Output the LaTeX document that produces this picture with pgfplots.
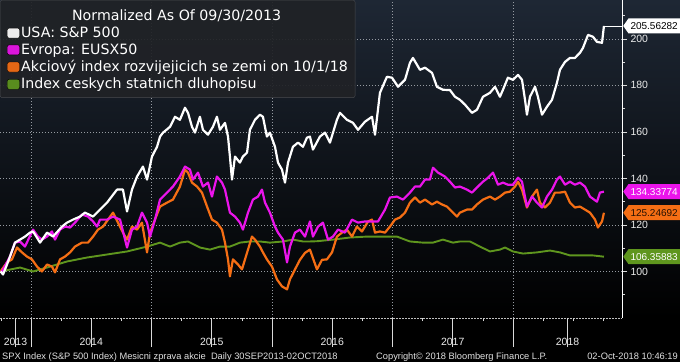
\documentclass[border=0pt]{standalone}
\usepackage{pgfplots}
\pgfplotsset{compat=1.18}
\usepackage{fontspec}
\setmainfont{DejaVu Sans}
\newfontfamily\lib{Liberation Sans}
\usetikzlibrary{shapes.symbols}
\definecolor{bgtop}{RGB}{30,39,52}
\definecolor{cmag}{RGB}{235,20,235}
\definecolor{corg}{RGB}{245,110,20}
\definecolor{cgrn}{RGB}{95,150,30}
\definecolor{cgrid}{RGB}{150,155,162}
\definecolor{legbg}{RGB}{32,34,38}
\definecolor{legdraw}{RGB}{72,74,78}
\tikzset{tag/.style={signal, signal to=west, signal pointer angle=110, anchor=west, xshift=1pt,
  inner xsep=2pt, inner ysep=2.5pt, minimum height=15pt, font=\lib\fontsize{10}{12}\selectfont}}
\begin{document}
\begin{tikzpicture}
\fill[black] (0,0) rectangle (680pt,362pt);
\shade[top color=bgtop, bottom color=black] (0,44pt) rectangle (680pt,362pt);
\begin{axis}[
  at={(0pt,44pt)}, anchor=south west,
  scale only axis, width=622pt, height=318pt,
  xmin=2013.7427, xmax=2018.905, ymin=80, ymax=216.7,
  axis x line*=bottom, axis y line*=right,
  clip=false,
  tick align=outside,
  major tick length=5pt, minor tick length=3pt,
  xtick={2014,2015,2016,2017,2018},
  xticklabels={},
  xtick style={/pgfplots/major tick length=29pt},
  minor xtick={2013.75,2014.25,2014.5,2014.75,2015.25,2015.5,2015.75,2016.25,2016.5,2016.75,2017.25,2017.5,2017.75,2018.25,2018.5,2018.75},
  extra x ticks={2013.871,2014.5,2015.5,2016.5,2017.5,2018.453},
  extra x tick labels={2013,2014,2015,2016,2017,2018},
  extra x tick style={grid=none, /pgfplots/major tick length=0pt},
  ytick={100,120,140,160,180,200},
  minor ytick={90,110,130,150,170,190,210},
  grid=major,
  major grid style={cgrid, dash pattern=on 1pt off 2pt, line width=0.5pt},
  tick style={white!85!black, line width=0.6pt},
  /pgf/number format/assume math mode=true,
  ticklabel style={font=\lib\fontsize{10.5}{12}\selectfont, text=white!92!black},
  xticklabel style={yshift=-17pt},
  x axis line style={white!75!black, dash pattern=on 2pt off 1pt, line width=0.6pt},
  y axis line style={white, line width=0.8pt},
  legend style={at={(0,1)}, anchor=north west, fill=legbg, fill opacity=0.92, text opacity=1,
    draw=legdraw, rounded corners=2pt, font=\fontsize{14.2}{16}\selectfont, text=white,
    cells={anchor=west}, row sep=2.3pt, inner xsep=6pt, inner ysep=6pt, nodes={inner sep=1.2pt}},
  legend image code/.code={\fill[#1] (1pt,-5pt) rectangle (13.5pt,5pt);},
]
\addlegendimage{empty legend}\addlegendentry{\rule{0pt}{13.5pt}\hspace*{51pt}Normalized As Of 09/30/2013}
\addlegendimage{fill=white}\addlegendentry{USA: S\&P 500}
\addlegendimage{fill=cmag}\addlegendentry{Evropa: EUSX50}
\addlegendimage{fill=corg}\addlegendentry{Akciový index rozvijejicich se zemi on 10/1/18}
\addlegendimage{fill=cgrn}\addlegendentry{Index ceskych statnich dluhopisu}

% Czech bond index
\addplot[cgrn, line width=1.9pt, line join=round, forget plot] coordinates {
(2013.748,100) (2013.909,101.7) (2014.017,100) (2014.133,101.7) (2014.299,104.3) (2014.465,106)
(2014.631,107.3) (2014.797,108.6) (2014.963,110.7) (2015.071,112.4) (2015.154,110.7) (2015.236,112.4)
(2015.303,112.9) (2015.402,110.3) (2015.485,109.4) (2015.568,110.7) (2015.651,110.7) (2015.734,112.4)
(2015.817,112.9) (2015.900,112.9) (2015.983,112.4) (2016.091,112.9) (2016.174,113.7) (2016.257,112.9)
(2016.315,112.9) (2016.373,113) (2016.506,113.7) (2016.647,114.6) (2016.788,115) (2016.896,115)
(2017.037,115) (2017.145,112.9) (2017.253,112.4) (2017.336,112.4) (2017.419,113.7) (2017.502,112.4)
(2017.560,112.9) (2017.643,112.9) (2017.726,110.7) (2017.809,108.6) (2017.892,109.4) (2017.934,110.3)
(2018.000,108.6) (2018.083,107.7) (2018.199,108.2) (2018.307,109) (2018.390,108.2) (2018.473,106.9)
(2018.581,106.9) (2018.664,106.9) (2018.755,106.35883)
};
% Emerging markets
\addplot[corg, line width=2.2pt, line join=round, forget plot] coordinates {
(2013.748,100) (2013.759,100.9) (2013.801,103.9) (2013.842,105.2) (2013.884,110.3) (2013.925,108.2)
(2013.967,106.4) (2014.008,105.2) (2014.050,102.1) (2014.091,100) (2014.133,103) (2014.174,102.1)
(2014.199,99.6) (2014.241,105.2) (2014.282,106.4) (2014.324,108.2) (2014.365,110.7) (2014.423,112.4)
(2014.473,112.4) (2014.515,115) (2014.556,118) (2014.598,119.3) (2014.639,122.3) (2014.681,125.3)
(2014.722,121) (2014.763,116.7) (2014.797,113.7) (2014.838,119.3) (2014.880,118) (2014.921,121)
(2014.963,108.2) (2014.988,116.7) (2015.029,122.3) (2015.071,127.9) (2015.129,129.6) (2015.178,130.9)
(2015.236,136.5) (2015.278,143.8) (2015.303,142.5) (2015.336,138.2) (2015.378,136.5) (2015.419,133.9)
(2015.461,127.9) (2015.502,122.3) (2015.543,121) (2015.585,118) (2015.610,112.4) (2015.635,105.2)
(2015.651,97.9) (2015.676,105.2) (2015.718,103) (2015.751,100.9) (2015.776,105.2) (2015.801,109.4)
(2015.834,115) (2015.859,113.7) (2015.900,110.7) (2015.925,108.2) (2015.958,105.2) (2016.000,102.1)
(2016.041,96.6) (2016.083,93.6) (2016.125,92.3) (2016.149,96.6) (2016.191,100.9) (2016.232,105)
(2016.274,108) (2016.315,109.4) (2016.373,100.9) (2016.415,105) (2016.456,105.2) (2016.498,108.2)
(2016.539,115) (2016.581,116.7) (2016.622,118) (2016.664,115) (2016.705,119.3) (2016.747,117.2)
(2016.797,121.5) (2016.830,122.3) (2016.855,116.7) (2016.896,117.2) (2016.938,116.7) (2016.979,119.3)
(2017.021,122.3) (2017.062,123.2) (2017.104,125.3) (2017.145,129.6) (2017.187,131.8) (2017.228,129.6)
(2017.270,130.9) (2017.328,128.8) (2017.369,130) (2017.411,128.8) (2017.452,127.9) (2017.502,125.3)
(2017.535,123.6) (2017.560,125.3) (2017.618,126.6) (2017.660,126.6) (2017.701,128.8) (2017.751,130.9)
(2017.809,132.2) (2017.851,130.9) (2017.892,132.2) (2017.934,133.9) (2017.975,134.3) (2018.017,136.5)
(2018.042,138.6) (2018.075,135.2) (2018.116,127.5) (2018.158,132.2) (2018.199,135.2) (2018.224,129.6)
(2018.266,127.5) (2018.307,129.6) (2018.348,133.9) (2018.390,133.9) (2018.432,134.3) (2018.473,129.6)
(2018.514,127.5) (2018.556,127.9) (2018.598,126.6) (2018.639,125.3) (2018.681,122.3) (2018.705,118.9)
(2018.739,121.5) (2018.755,125.24692)
};
% Euro Stoxx 50
\addplot[cmag, line width=2.2pt, line join=round, forget plot] coordinates {
(2013.748,100) (2013.759,100) (2013.826,106.4) (2013.867,112.4) (2013.909,112.9) (2013.950,110.7)
(2014.017,118) (2014.058,115) (2014.091,113.7) (2014.133,115) (2014.174,117.2) (2014.199,113.7)
(2014.241,118) (2014.282,119.3) (2014.324,118.9) (2014.365,121) (2014.423,124.5) (2014.473,123.6)
(2014.515,121.5) (2014.548,119.3) (2014.573,122.3) (2014.631,122.3) (2014.681,123.6) (2014.739,122.3)
(2014.797,110.3) (2014.838,118) (2014.880,119.3) (2014.921,125.3) (2014.963,121) (2014.988,115)
(2015.029,122.3) (2015.071,130.9) (2015.129,133.9) (2015.178,136.5) (2015.236,140.8) (2015.278,145.1)
(2015.319,143.8) (2015.344,139.5) (2015.386,142.5) (2015.427,136.5) (2015.469,138.2) (2015.502,132.2)
(2015.543,140.8) (2015.585,138.2) (2015.610,135.2) (2015.651,125.3) (2015.693,123.6) (2015.734,121)
(2015.759,118) (2015.801,125.3) (2015.842,130.9) (2015.884,132.2) (2015.917,135.2) (2015.942,129.6)
(2015.983,125.3) (2016.025,119.3) (2016.050,116.7) (2016.091,113.7) (2016.125,103.9) (2016.149,110.7)
(2016.191,116.7) (2016.232,118) (2016.274,115) (2016.315,121.5) (2016.340,115) (2016.382,119.3)
(2016.423,121) (2016.465,113.7) (2016.506,115) (2016.548,118) (2016.606,116.7) (2016.664,122.3)
(2016.714,121) (2016.772,121.5) (2016.830,121.5) (2016.880,121.5) (2016.938,126.6) (2016.979,131.8)
(2017.037,132.2) (2017.087,130.9) (2017.145,133.9) (2017.187,136.5) (2017.228,136.5) (2017.270,139.5)
(2017.311,139.5) (2017.336,144.6) (2017.378,142.5) (2017.436,140.8) (2017.477,138.6) (2017.519,136.1)
(2017.560,136.5) (2017.618,135.2) (2017.660,133.9) (2017.701,136.1) (2017.751,138.6) (2017.793,140.3)
(2017.834,142.5) (2017.876,137.3) (2017.917,138.2) (2017.958,137.3) (2018.000,137.3) (2018.042,140.3)
(2018.075,138.6) (2018.116,127.9) (2018.158,132.2) (2018.199,129.6) (2018.241,127.5) (2018.282,132.2)
(2018.324,135.2) (2018.365,139.5) (2018.390,140.8) (2018.432,137.3) (2018.473,138.6) (2018.514,137.3)
(2018.556,138.2) (2018.598,136.5) (2018.639,132.2) (2018.697,130) (2018.722,133.9) (2018.755,134.33774)
};
% S&P 500
\addplot[white, line width=2.2pt, line join=round, forget plot] coordinates {
(2013.748,100) (2013.768,98.7) (2013.801,103) (2013.826,106.5) (2013.867,112.4) (2013.909,113.7)
(2013.950,115) (2013.992,116.7) (2014.017,117.2) (2014.050,114.5) (2014.075,112.4) (2014.133,116.7)
(2014.183,115) (2014.257,119.3) (2014.299,121) (2014.349,122.3) (2014.407,123.6) (2014.448,125.3)
(2014.515,123.6) (2014.573,126.6) (2014.631,129.6) (2014.681,133) (2014.714,135.2) (2014.763,135.2)
(2014.797,125.8) (2014.838,135.2) (2014.880,140.8) (2014.929,145.1) (2014.963,139.5) (2015.004,149.4)
(2015.046,153.6) (2015.071,158) (2015.096,159.7) (2015.154,162.2) (2015.195,166.5) (2015.236,165.2)
(2015.278,170.4) (2015.303,168.2) (2015.336,162.2) (2015.361,159.7) (2015.402,166.5) (2015.427,160.9)
(2015.469,158.8) (2015.510,162.2) (2015.543,166.5) (2015.568,160.9) (2015.610,163.9) (2015.635,158)
(2015.651,149.4) (2015.668,139.5) (2015.693,149.4) (2015.734,146.8) (2015.759,149.4) (2015.793,151.1)
(2015.817,160.9) (2015.859,165.2) (2015.900,167.4) (2015.925,166.5) (2015.958,158) (2015.983,159.7)
(2016.025,153.6) (2016.050,146.8) (2016.083,143.8) (2016.108,138.2) (2016.133,146.8) (2016.174,153.6)
(2016.216,155.4) (2016.257,153.6) (2016.290,157.5) (2016.315,158) (2016.340,152.4) (2016.398,158)
(2016.440,159.7) (2016.481,155.4) (2016.539,165.2) (2016.564,168.2) (2016.622,165.2) (2016.672,163.9)
(2016.714,160.9) (2016.772,164.4) (2016.830,166.5) (2016.855,158.8) (2016.896,176.8) (2016.954,183.7)
(2016.996,183.3) (2017.046,179.4) (2017.104,182.4) (2017.145,189.7) (2017.170,191.8) (2017.228,186.7)
(2017.270,187.6) (2017.328,185.4) (2017.369,179.4) (2017.419,178.1) (2017.477,178) (2017.519,175.1)
(2017.560,173.8) (2017.602,171.7) (2017.660,168.2) (2017.701,169.5) (2017.751,175.1) (2017.809,176.8)
(2017.851,179.4) (2017.892,175.1) (2017.917,178.1) (2017.958,183.3) (2018.000,182.4) (2018.042,184.5)
(2018.075,182.4) (2018.100,173.8) (2018.116,167.4) (2018.141,175.1) (2018.183,179.4) (2018.207,175.1)
(2018.241,167.4) (2018.282,170.8) (2018.324,173.8) (2018.365,181.1) (2018.390,186.7) (2018.432,190.1)
(2018.473,191.8) (2018.514,191.8) (2018.556,194) (2018.581,196.1) (2018.623,201.7) (2018.664,200.9)
(2018.697,198.7) (2018.739,198.3) (2018.755,205.56282)
};
\addplot[white, line width=0.6pt, forget plot] coordinates {(2018.755,205.56282) (2018.905,205.56282)};

\node[tag, fill=white, text=black] at (axis cs:2018.905,205.56282) {205.56282};
\node[tag, fill=cmag, text=white] at (axis cs:2018.905,134.33774) {134.33774};
\node[tag, fill=corg, text=black!85!corg] at (axis cs:2018.905,125.24692) {125.24692};
\node[tag, fill=cgrn, text=white] at (axis cs:2018.905,106.35883) {106.35883};
\end{axis}
\begin{scope}[every node/.style={inner sep=0pt, text=white!88!black, font=\lib\fontsize{9.3}{11}\selectfont}]
\node[anchor=base west] at (2pt,3pt) {SPX Index (S\&P 500 Index) Mesicni zprava akcie\ \ Daily 30SEP2013-02OCT2018};
\node[anchor=base west] at (376pt,3pt) {Copyright© 2018 Bloomberg Finance L.P.};
\node[anchor=base east] at (678pt,3pt) {02-Oct-2018 10:46:19};
\end{scope}
\pgfresetboundingbox
\useasboundingbox (0,0) rectangle (680pt,362pt);
\end{tikzpicture}
\end{document}
